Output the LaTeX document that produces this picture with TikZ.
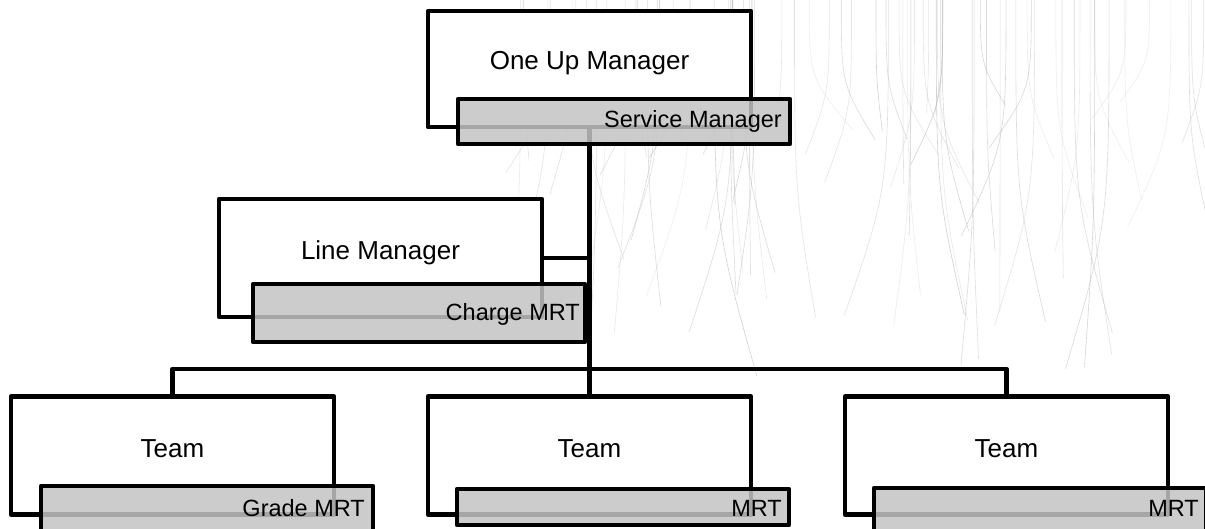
\documentclass[tikz,border=0pt]{standalone}
\usepackage{fontspec}
\setmainfont{Liberation Sans}
\begin{document}
\begin{tikzpicture}[x=1pt,y=-1pt,
  outerbox/.style={draw, line width=4.6pt, line join=round, fill=white, minimum width=323pt, minimum height=118pt, inner sep=0pt, outer sep=0pt},
  labelbox/.style={draw, line width=4.6pt, line join=round, fill=black!23, fill opacity=0.85, text opacity=1, minimum width=332pt, inner sep=0pt, outer sep=0pt},
  maintext/.style={font=\fontsize{26}{30}\selectfont, anchor=base, inner sep=0pt},
  labeltext/.style={font=\fontsize{23.5}{28}\selectfont, anchor=base east, inner sep=0pt},
  conn/.style={line width=4.6pt, line join=round},
  bgline/.style={black!30, line width=0.6pt}]
\useasboundingbox (0,0) rectangle (1205,529);
\fill[white] (0,0) rectangle (1205,529);
% decorative background strands
\pgfmathsetseed{11}
\foreach \i in {1,...,80}{
  \pgfmathsetmacro{\bgxa}{520+rnd*690}
  \pgfmathsetmacro{\bglen}{100+rnd*280}
  \pgfmathsetmacro{\bgdx}{(rnd-0.5)*90}
  \pgfmathsetmacro{\bgop}{0.2+rnd*0.4}
  \draw[bgline, opacity=\bgop] (\bgxa,-2) .. controls (\bgxa,{\bglen*0.6}) .. ({\bgxa+\bgdx},\bglen);
}
% outer boxes
\node[outerbox, minimum height=116pt] (up) at (589.5,69) {};
\node[outerbox] (line) at (380.5,258) {};
\node[outerbox] (team1) at (172.5,455.5) {};
\node[outerbox] (team2) at (589.5,455.5) {};
\node[outerbox] (team3) at (1006.5,455.5) {};
% connectors
\coordinate (bar) at (589.5,369);
\draw[conn] (up.south) -- (team2.north);
\draw[conn] (line.east) -- (line.east -| up.south);
\draw[conn] (team1.north) |- (bar) -| (team3.north);
% label boxes
\node[labelbox, minimum height=45pt] (upl) at (624,121.5) {};
\node[labelbox, minimum height=58pt] (linel) at (419,313) {};
\node[labelbox, minimum height=45pt] (t1l) at (207,508.5) {};
\node[labelbox, minimum height=36pt] (t2l) at (623,507) {};
\node[labelbox, minimum height=43pt] (t3l) at (1040,509.5) {};
% texts
\node[maintext] (upt) at (589.5,70) {One Up Manager};
\node[maintext] (linet) at (380.5,260) {Line Manager};
\node[maintext] (t1t) at (172.5,457) {Team};
\node[maintext] (t2t) at (589.5,457) {Team};
\node[maintext] (t3t) at (1006.5,457) {Team};
\node[labeltext] (uplt) at (782,128) {Service Manager};
\node[labeltext] (linelt) at (580,320) {Charge MRT};
\node[labeltext] (t1lt) at (365,516) {Grade MRT};
\node[labeltext] (t2lt) at (782,516) {MRT};
\node[labeltext] (t3lt) at (1199,516) {MRT};
\end{tikzpicture}
\end{document}
